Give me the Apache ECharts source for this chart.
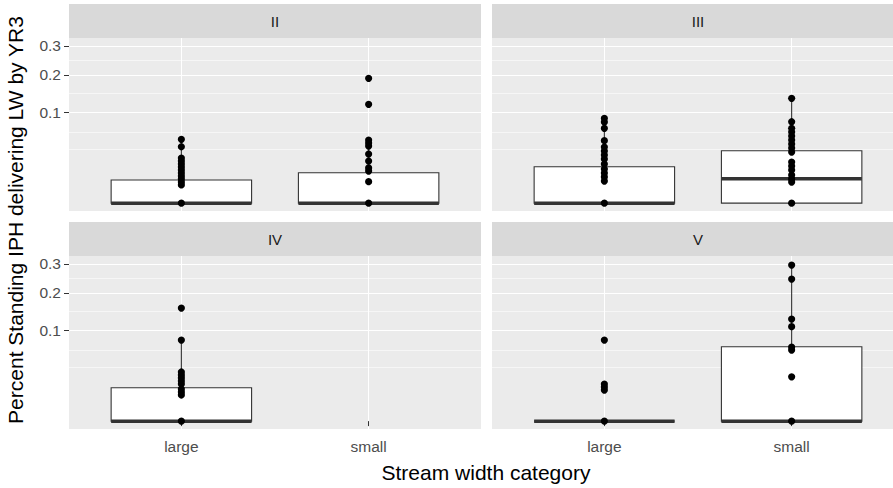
<!DOCTYPE html>
<html><head><meta charset="utf-8">
<script src="https://cdn.jsdelivr.net/npm/echarts@6/dist/echarts.min.js"></script>
<style>html,body{margin:0;padding:0;background:#fff}#c{width:893px;height:488px}</style>
</head><body><div id="c"></div>
<script>
// ---------- data ----------
const facets = ['II', 'III', 'IV', 'V'];
const categories = ['large', 'small'];
const yTickValues = [0.1, 0.2, 0.3];
const yMinorValues = [0.0357, 0.0615, 0.1457, 0.2474];
const xTitle = 'Stream width category';
const yTitle = 'Percent Standing IPH delivering LW by YR3';

// raw points (proportions)
const ptsII_large  = [0.0494, 0.0386, 0.0247, 0.0215, 0.0186, 0.0158, 0.0133, 0.0110, 0.0089, 0.0071, 0.0054, 0.0040, 0];
const ptsII_small  = [0.1891, 0.1185, 0.0483, 0.0439, 0.0396, 0.0293, 0.0215, 0.0150, 0.0125, 0.0056, 0];
const ptsIII_large = [0.0873, 0.0799, 0.0679, 0.0473, 0.0382, 0.0330, 0.0281, 0.0236, 0.0186, 0.0141, 0.0110, 0.0083, 0.0059, 0];
const ptsIII_small = [0.1334, 0.0804, 0.0679, 0.0614, 0.0547, 0.0483, 0.0424, 0.0369, 0.0317, 0.0205, 0.0167, 0.0133, 0.0096, 0.0071, 0.0054, 0];
const ptsIV_large  = [0.1553, 0.0799, 0.0293, 0.0258, 0.0226, 0.0195, 0.0167, 0.0125, 0.0103, 0.0083, 0];
const ptsIV_small  = [];
const ptsV_large   = [0.0799, 0.0167, 0.0141, 0.0117, 0];
const ptsV_small   = [0.2958, 0.2451, 0.1266, 0.1082, 0.0667, 0.0614, 0.0239, 0];

// box stats [lower whisker, Q1, median, Q3, upper whisker]
const boxII_large  = [0, 0, 0, 0.00648, 0.0386];
const boxII_small  = [0, 0, 0, 0.01121, 0.0483];
const boxIII_large = [0, 0, 0, 0.01608, 0.0873];
const boxIII_small = [0, 0, 0.00723, 0.0333, 0.1334];
const boxIV_large  = [0, 0, 0, 0.01354, 0.0799];
const boxIV_small  = null;
const boxV_large   = [0, 0, 0, 0, 0];
const boxV_small   = [0, 0, 0, 0.0672, 0.2958];

const facetPoints = [[ptsII_large, ptsII_small], [ptsIII_large, ptsIII_small], [ptsIV_large, ptsIV_small], [ptsV_large, ptsV_small]];
const facetBoxes = [[boxII_large, boxII_small], [boxIII_large, boxIII_small], [boxIV_large, boxIV_small], [boxV_large, boxV_small]];

// ---------- layout ----------
const FONT = 'Liberation Sans, Arial, Helvetica, sans-serif';
const PW = 412, PH = 173;
const panelPos = [[69, 38], [492, 38], [69, 256], [492, 256]];
const STRIP_H = 34;
const Y_MIN_S = -0.0274, Y_MAX_S = 0.5754; // sqrt-space limits
const tr = Math.sqrt;

const grids = [], xAxes = [], yAxes = [], series = [], graphics = [];

function renderBox(params, api) {
  const x = api.value(0);
  const pMin = api.coord([x, api.value(1)]);
  const pQ1 = api.coord([x, api.value(2)]);
  const pMed = api.coord([x, api.value(3)]);
  const pQ3 = api.coord([x, api.value(4)]);
  const pMax = api.coord([x, api.value(5)]);
  const half = api.size([0.75, 0])[0] / 2;
  const st = { stroke: '#333333', lineWidth: 1.1, fill: null };
  return {
    type: 'group',
    children: [
      { type: 'line', shape: { x1: pMax[0], y1: pMax[1], x2: pQ3[0], y2: pQ3[1] }, style: st },
      { type: 'line', shape: { x1: pMin[0], y1: pMin[1], x2: pQ1[0], y2: pQ1[1] }, style: st },
      { type: 'rect', shape: { x: pQ3[0] - half, y: pQ3[1], width: 2 * half, height: pQ1[1] - pQ3[1] },
        style: { fill: '#ffffff', stroke: '#333333', lineWidth: 1.1 } },
      { type: 'line', shape: { x1: pMed[0] - half, y1: pMed[1], x2: pMed[0] + half, y2: pMed[1] },
        style: { stroke: '#333333', lineWidth: 3.5 } }
    ]
  };
}

facets.forEach((name, i) => {
  const [L, T] = panelPos[i];
  const isBottom = i >= 2, isLeft = i % 2 === 0;
  grids.push({ left: L, top: T, width: PW, height: PH, show: true, backgroundColor: '#ebebeb',
    borderWidth: 0, containLabel: false, outerBoundsMode: 'none' });
  xAxes.push({
    type: 'value', gridIndex: i, min: 0.4, max: 2.6,
    axisLine: { show: false },
    axisTick: { show: isBottom, customValues: [1, 2], length: 5, lineStyle: { color: '#333333', width: 1 } },
    axisLabel: { show: isBottom, customValues: [1, 2], formatter: v => categories[Math.round(v) - 1] || '',
      color: '#4d4d4d', fontSize: 15.5, fontFamily: FONT, margin: 9 },
    splitLine: { show: true, lineStyle: { color: '#ffffff', width: 1.1 } }
  });
  // major y axis
  yAxes.push({
    type: 'value', gridIndex: i, min: Y_MIN_S, max: Y_MAX_S,
    axisLine: { show: false },
    axisTick: { show: isLeft, customValues: yTickValues.map(tr), length: 5, lineStyle: { color: '#333333', width: 1 } },
    axisLabel: { show: isLeft, customValues: yTickValues.map(tr), formatter: v => (v * v).toFixed(1),
      color: '#4d4d4d', fontSize: 15.5, fontFamily: FONT, margin: 8 },
    splitLine: { show: true, lineStyle: { color: '#ffffff', width: 1.1 } },
    z: 1
  });
  // minor y grid
  yAxes.push({
    type: 'value', gridIndex: i, min: Y_MIN_S, max: Y_MAX_S, position: 'left',
    axisLine: { show: false },
    axisTick: { show: false, customValues: yMinorValues.map(tr) },
    axisLabel: { show: false, customValues: yMinorValues.map(tr) },
    splitLine: { show: true, lineStyle: { color: '#ffffff', width: 0.55 } },
    z: 0
  });
  const yIdx = i * 2;
  const boxData = [];
  facetBoxes[i].forEach((b, c) => { if (b) boxData.push([c + 1].concat(b.map(tr))); });
  series.push({
    type: 'custom', name: name + ' box', xAxisIndex: i, yAxisIndex: yIdx,
    renderItem: renderBox, data: boxData, z: 3, silent: true,
    encode: { x: 0, y: [1, 2, 3, 4, 5] }
  });
  const ptData = [];
  facetPoints[i].forEach((arr, c) => arr.forEach(v => ptData.push([c + 1, tr(v)])));
  series.push({
    type: 'scatter', name: name + ' points', xAxisIndex: i, yAxisIndex: yIdx,
    data: ptData, symbol: 'circle', symbolSize: 7.2, itemStyle: { color: '#000000', opacity: 1 },
    z: 5, silent: true
  });
  // strip
  graphics.push({ type: 'rect', left: L, top: T - STRIP_H, shape: { width: PW, height: STRIP_H },
    style: { fill: '#d9d9d9' }, silent: true });
  graphics.push({ type: 'text', x: L + PW / 2, y: T - STRIP_H / 2,
    style: { text: name, fill: '#1a1a1a', font: '15px ' + FONT, textAlign: 'center', textVerticalAlign: 'middle' },
    silent: true });
});

graphics.push({ type: 'text', x: 486, y: 472,
  style: { text: xTitle, fill: '#000000', font: '21px ' + FONT, textAlign: 'center', textVerticalAlign: 'middle' } });
graphics.push({ type: 'text', x: 15, y: 220, rotation: Math.PI / 2,
  style: { text: yTitle, fill: '#000000', font: '21px ' + FONT, textAlign: 'center', textVerticalAlign: 'middle' } });

const chart = echarts.init(document.getElementById('c'), null, { renderer: 'svg', width: 893, height: 488 });
chart.setOption({
  animation: false,
  backgroundColor: '#ffffff',
  grid: grids, xAxis: xAxes, yAxis: yAxes, series: series, graphic: graphics
});
</script>
</body></html>
